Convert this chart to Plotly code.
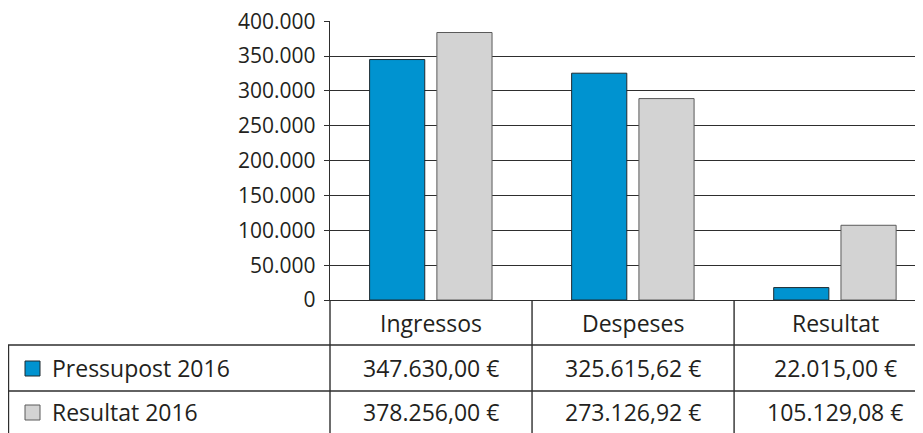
import plotly.graph_objects as go

# ---------------- data ----------------
categories = ["Ingressos", "Despeses", "Resultat"]
series_names = ["Pressupost 2016", "Resultat 2016"]
pressupost_2016 = [345000, 325400, 17800]
resultat_2016 = [383800, 289000, 107200]
pressupost_labels = ["347.630,00 €", "325.615,62 €", "22.015,00 €"]
resultat_labels = ["378.256,00 €", "273.126,92 €", "105.129,08 €"]
y_tick_values = [0, 50000, 100000, 150000, 200000, 250000, 300000, 350000, 400000]
y_tick_labels = ["0", "50.000", "100.000", "150.000", "200.000", "250.000",
                 "300.000", "350.000", "400.000"]

# ---------------- styling ----------------
OFF = 8  # browser default body margin
W, H = 923 - OFF, 433 - OFF
ML, MR, MT, MB = 330 - OFF, 0, 21 - OFF, 133
PW, PH = W - ML - MR, H - MT - MB
FONT = "Open Sans"
TXT = "#231f20"
LINE = "#2e2e2e"
BLUE = "#0093d0"
GREY = "#d3d3d3"


def xp(px):
    # px given in page coordinates
    return (px - OFF - ML) / PW


def yp(py):
    return (H - MB - (py - OFF)) / PH


xs = list(range(len(categories)))

fig = go.Figure()
fig.add_trace(go.Bar(
    x=xs, y=pressupost_2016, name=series_names[0],
    width=0.273, offset=-0.304,
    marker=dict(color=BLUE, line=dict(color="#1e2a30", width=1)),
    showlegend=False,
))
fig.add_trace(go.Bar(
    x=xs, y=resultat_2016, name=series_names[1],
    width=0.273, offset=0.029,
    marker=dict(color=GREY, line=dict(color="#5a5a5a", width=1)),
    showlegend=False,
))

shapes = []
lw = 1.4
# horizontal table lines
for py in (345, 391):
    shapes.append(dict(type="line", xref="paper", yref="paper",
                       x0=xp(8), x1=xp(935), y0=yp(py), y1=yp(py),
                       line=dict(color=LINE, width=lw)))
# left border of legend column
shapes.append(dict(type="line", xref="paper", yref="paper",
                   x0=xp(8.5), x1=xp(8.5), y0=yp(345), y1=yp(440),
                   line=dict(color=LINE, width=lw)))
# axis line extension through the table
shapes.append(dict(type="line", xref="paper", yref="paper",
                   x0=0, x1=0, y0=0, y1=yp(440),
                   line=dict(color=LINE, width=lw)))
# category dividers
for xv in (0.5, 1.5):
    shapes.append(dict(type="line", xref="x", yref="paper",
                       x0=xv, x1=xv, y0=0, y1=yp(440),
                       line=dict(color=LINE, width=lw)))
# legend swatches
shapes.append(dict(type="rect", xref="paper", yref="paper",
                   x0=xp(25), x1=xp(40), y0=yp(361), y1=yp(376),
                   fillcolor=BLUE, line=dict(color="#1e2a30", width=1)))
shapes.append(dict(type="rect", xref="paper", yref="paper",
                   x0=xp(25), x1=xp(40), y0=yp(405), y1=yp(420),
                   fillcolor=GREY, line=dict(color="#5a5a5a", width=1)))

annotations = []
tfont = dict(family=FONT, size=23, color=TXT)
for i, c in enumerate(categories):
    annotations.append(dict(x=i, xref="x", y=yp(323), yref="paper", text=c,
                            showarrow=False, font=tfont, xanchor="center", yanchor="middle"))
    annotations.append(dict(x=i, xref="x", y=yp(368), yref="paper", text=pressupost_labels[i],
                            showarrow=False, font=tfont, xanchor="center", yanchor="middle"))
    annotations.append(dict(x=i, xref="x", y=yp(412), yref="paper", text=resultat_labels[i],
                            showarrow=False, font=tfont, xanchor="center", yanchor="middle"))
annotations.append(dict(x=xp(50), xref="paper", y=yp(368), yref="paper", text=series_names[0],
                        showarrow=False, font=tfont, xanchor="left", yanchor="middle"))
annotations.append(dict(x=xp(50), xref="paper", y=yp(412), yref="paper", text=series_names[1],
                        showarrow=False, font=tfont, xanchor="left", yanchor="middle"))

fig.update_layout(
    width=W, height=H,
    margin=dict(l=ML, r=MR, t=MT, b=MB, pad=0),
    paper_bgcolor="white", plot_bgcolor="white",
    barmode="overlay",
    font=dict(family=FONT, color=TXT),
    shapes=shapes, annotations=annotations,
    xaxis=dict(range=[-0.5, 2.435], showticklabels=False, ticks="",
               showgrid=False, zeroline=False, showline=True,
               linecolor=LINE, linewidth=lw, fixedrange=True),
    yaxis=dict(range=[0, 400300], tickvals=y_tick_values, ticktext=y_tick_labels,
               showgrid=True, gridcolor=LINE, gridwidth=lw, zeroline=False,
               showline=True, linecolor=LINE, linewidth=lw,
               ticks="outside", ticklen=5, tickcolor=LINE, tickwidth=lw,
               ticklabelstandoff=4, ticklabeloverflow="allow",
               tickfont=dict(family=FONT, size=21, color=TXT), fixedrange=True),
)

fig.write_html("out.html", config={"displayModeBar": False})
